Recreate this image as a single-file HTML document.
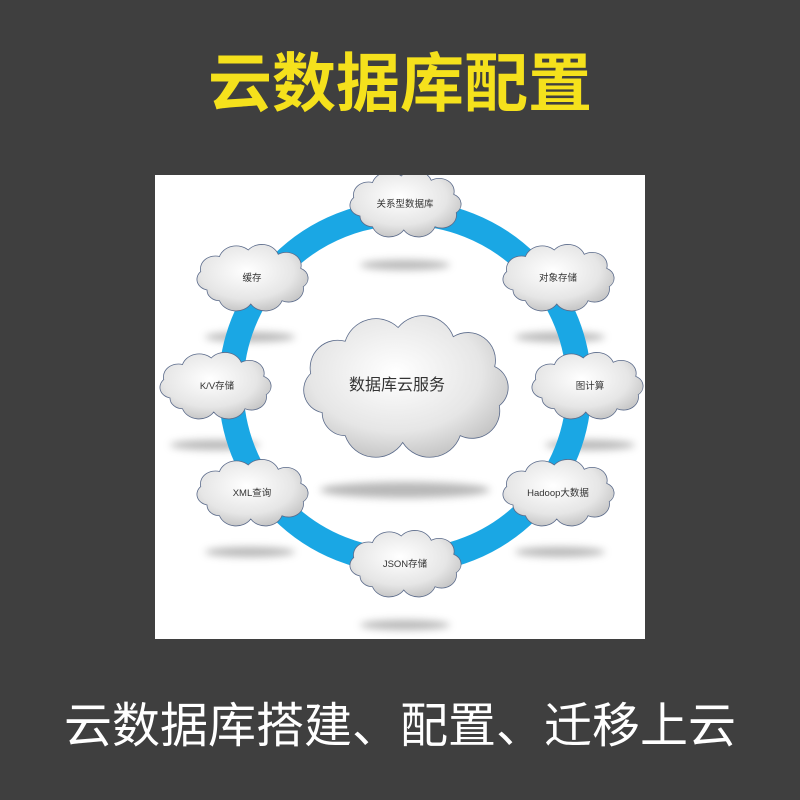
<!DOCTYPE html>
<html><head><meta charset="utf-8"><style>
html,body{margin:0;padding:0;}
body{width:800px;height:800px;background:#3f3f3f;position:relative;overflow:hidden;font-family:"Liberation Sans","Noto Sans CJK SC",sans-serif;}
.t{position:absolute;left:0;width:800px;text-align:center;}
</style></head><body>
<div class="t" style="top:46px;font-size:64px;font-weight:bold;color:#f5e11c;line-height:76px;">云数据库配置</div>
<div class="t" style="top:698px;font-size:48px;color:#fff;line-height:58px;">云数据库搭建、配置、迁移上云</div>
<svg style="position:absolute;left:155px;top:175px" width="490" height="464" viewBox="155 175 490 464">
<defs>
<radialGradient id="g" cx="0.45" cy="0.4" r="0.7"><stop offset="0" stop-color="#ffffff"/><stop offset="0.6" stop-color="#e6e6e6"/><stop offset="1" stop-color="#b8b8b8"/></radialGradient>
<filter id="b" x="-50%" y="-200%" width="200%" height="500%"><feGaussianBlur stdDeviation="4"/></filter>
<path id="c" d="M15 45 A10 10 0 0 1 10 28 A12 12 0 0 1 25 14 A14 14 0 0 1 48 8 A14 14 0 0 1 72 12 A12 12 0 0 1 90 25 A10 10 0 0 1 92 42 A12 12 0 0 1 75 55 A14 14 0 0 1 50 58 A14 14 0 0 1 25 55 A10 10 0 0 1 15 45 Z" fill="url(#g)" stroke="#5a6a8a" stroke-width="0.8" vector-effect="non-scaling-stroke"/>
</defs>
<rect x="155" y="175" width="490" height="464" fill="#fff"/>
<g fill="#9a9a9a" filter="url(#b)" opacity="0.7">
<ellipse cx="405" cy="265" rx="45" ry="5"/>
<ellipse cx="250" cy="337" rx="45" ry="5"/>
<ellipse cx="560" cy="337" rx="45" ry="5"/>
<ellipse cx="215" cy="445" rx="45" ry="5"/>
<ellipse cx="590" cy="445" rx="45" ry="5"/>
<ellipse cx="405" cy="490" rx="85" ry="8"/>
<ellipse cx="250" cy="552" rx="45" ry="5"/>
<ellipse cx="560" cy="552" rx="45" ry="5"/>
<ellipse cx="405" cy="625" rx="45" ry="5"/>
</g>
<circle cx="405" cy="387" r="174" fill="none" stroke="#1aa7e4" stroke-width="25"/>
<g font-size="9.5" fill="#333" text-anchor="middle" font-family="Liberation Sans,Noto Sans CJK SC,sans-serif">
<use href="#c" transform="translate(405,203) scale(1.25,1.08) translate(-51,-33)"/><text x="405" y="207">关系型数据库</text>
<use href="#c" transform="translate(252,277) scale(1.25,1.08) translate(-51,-33)"/><text x="252" y="281">缓存</text>
<use href="#c" transform="translate(558,277) scale(1.25,1.08) translate(-51,-33)"/><text x="558" y="281">对象存储</text>
<use href="#c" transform="translate(215,385) scale(1.25,1.08) translate(-51,-33)"/><text x="217" y="389">K/V存储</text>
<use href="#c" transform="translate(587,385) scale(1.25,1.08) translate(-51,-33)"/><text x="590" y="389">图计算</text>
<use href="#c" transform="translate(252,492) scale(1.25,1.08) translate(-51,-33)"/><text x="252" y="496">XML查询</text>
<use href="#c" transform="translate(558,492) scale(1.25,1.08) translate(-51,-33)"/><text x="558" y="496">Hadoop大数据</text>
<use href="#c" transform="translate(405,563) scale(1.25,1.08) translate(-51,-33)"/><text x="405" y="567">JSON存储</text>
<use href="#c" transform="translate(405,385) scale(2.3,2.3) translate(-51,-33)"/><text x="397" y="390" font-size="16" fill="#333">数据库云服务</text>
</g>
</svg>
</body></html>
